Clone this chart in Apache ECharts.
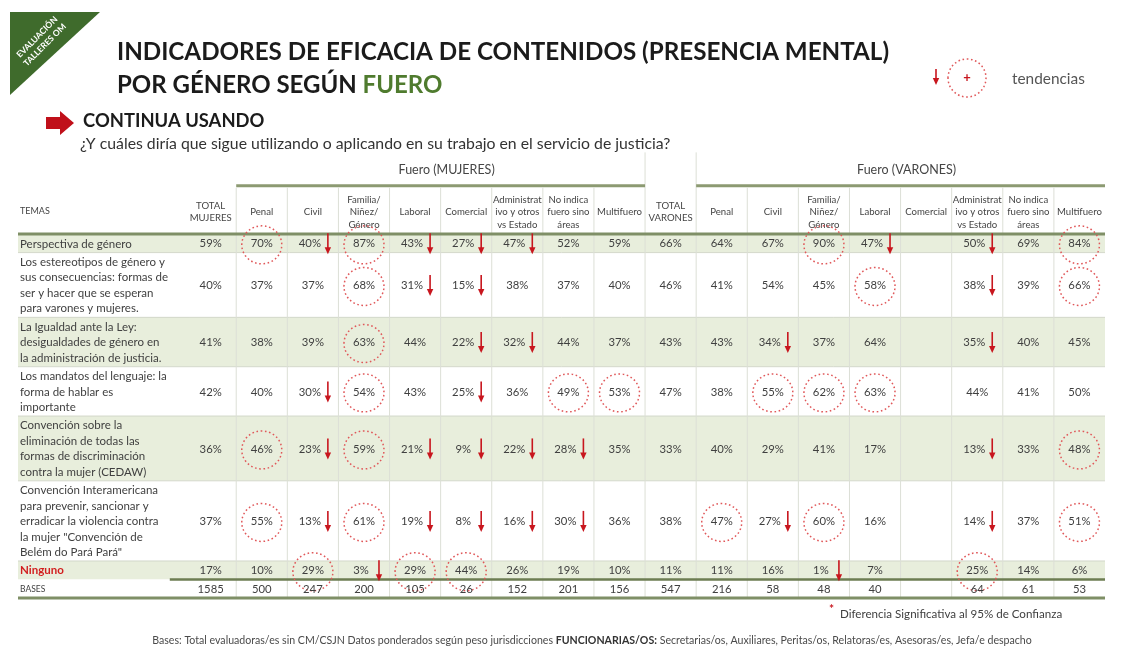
<!DOCTYPE html>
<html><head><meta charset="utf-8">
<script src="https://cdn.jsdelivr.net/npm/echarts@6/dist/echarts.min.js"></script>
<style>html,body{margin:0;padding:0;background:#fff}#c{width:1131px;height:646px}</style>
</head><body><div id="c"></div>
<script>
// ---------- DATA ----------
const columnas = ['TOTAL\nMUJERES','Penal','Civil','Familia/\nNiñez/\nGénero','Laboral','Comercial','Administrat\nivo y otros\nvs Estado','No indica\nfuero sino\náreas','Multifuero',
                  'TOTAL\nVARONES','Penal','Civil','Familia/\nNiñez/\nGénero','Laboral','Comercial','Administrat\nivo y otros\nvs Estado','No indica\nfuero sino\náreas','Multifuero'];
const grupos = ['Fuero (MUJERES)','Fuero (VARONES)'];
const temas = [
  'Perspectiva de género',
  'Los estereotipos de género y\nsus consecuencias: formas de\nser y hacer que se esperan\npara varones y mujeres.',
  'La Igualdad ante la Ley:\ndesigualdades de género en\nla administración de justicia.',
  'Los mandatos del lenguaje: la\nforma de hablar es\nimportante',
  'Convención sobre la\neliminación de todas las\nformas de discriminación\ncontra la mujer (CEDAW)',
  'Convención Interamericana\npara prevenir, sancionar y\nerradicar la violencia contra\nla mujer "Convención de\nBelém do Pará Pará"',
  'Ninguno',
  'BASES'
];
const perspectiva  = [59,70,40,87,43,27,47,52,59, 66,64,67,90,47,null,50,69,84];
const estereotipos = [40,37,37,68,31,15,38,37,40, 46,41,54,45,58,null,38,39,66];
const igualdad     = [41,38,39,63,44,22,32,44,37, 43,43,34,37,64,null,35,40,45];
const lenguaje     = [42,40,30,54,43,25,36,49,53, 47,38,55,62,63,null,44,41,50];
const cedaw        = [36,46,23,59,21,9,22,28,35,  33,40,29,41,17,null,13,33,48];
const belem        = [37,55,13,61,19,8,16,30,36,  38,47,27,60,16,null,14,37,51];
const ninguno      = [17,10,29,3,29,44,26,19,10,  11,11,16,1,7,null,25,14,6];
const bases        = [1585,500,247,200,105,26,152,201,156, 547,216,58,48,40,null,64,61,53];
// c = tendencia positiva (círculo), d = tendencia negativa (flecha), - = ninguna
const marcasPerspectiva  = '-cdcddd-----cd-d-c';
const marcasEstereotipos = '---cdd-------c-d-c';
const marcasIgualdad     = '---c-dd----d---d--';
const marcasLenguaje     = '--dc-d-cc--ccc----';
const marcasCedaw        = '-cdcdddd-------d-c';
const marcasBelem        = '-cdcdddd--cdc--d-c';
const marcasNinguno      = '--cdcc------d--c--';
const marcasBases        = '------------------';

// ---------- BUILD ----------
const filas = [perspectiva, estereotipos, igualdad, lenguaje, cedaw, belem, ninguno, bases];
const marcas = [marcasPerspectiva, marcasEstereotipos, marcasIgualdad, marcasLenguaje, marcasCedaw, marcasBelem, marcasNinguno, marcasBases];
const TEMAS_W = 3.27;
const rowSpan = temas.map(t => t.split('\n').length + 0.2);
const rowTop = [];
let acc = 0;
rowSpan.forEach((s, i) => { rowTop.push(acc); acc += s; });
const TOTAL_H = acc;
const NCOL = columnas.length;

const celdas = [];
filas.forEach((fila, r) => fila.forEach((v, c) => { if (v !== null) celdas.push([c, r, v]); }));

const FONT = 'Lato, "Open Sans", sans-serif';
const TXT = '#3f3f3f';
const VERDE = '#e8eedc';
const ROJO = '#c8161e';
const ROSA = '#e0585a';

const chart = echarts.init(document.getElementById('c'), null, {renderer: 'canvas'});

const option = {
  animation: false,
  grid: {left: 18, right: 26, top: 157, bottom: 48},
  xAxis: {type: 'value', min: -TEMAS_W, max: NCOL, show: false},
  yAxis: {type: 'value', min: -5, max: TOTAL_H, inverse: true, show: false},
  series: [
    { // row backgrounds + separators
      type: 'custom', clip: false, silent: true,
      data: temas.map((t, i) => [i]),
      renderItem(params, api) {
        const r = api.value(0);
        const a = api.coord([-TEMAS_W, rowTop[r]]);
        const b = api.coord([NCOL, rowTop[r] + rowSpan[r]]);
        const ch = [{type: 'rect', shape: {x: a[0], y: a[1], width: b[0] - a[0], height: b[1] - a[1]},
                     style: {fill: r % 2 === 0 ? VERDE : '#ffffff'}}];
        if (r > 0 && r < temas.length - 1) ch.push({type: 'line', shape: {x1: a[0], y1: a[1], x2: b[0], y2: a[1]}, style: {stroke: '#d3d8ca', lineWidth: 1}});
        return {type: 'group', children: ch};
      }
    },
    { // column headers + vertical separators
      type: 'custom', clip: false, silent: true,
      data: columnas.map((t, i) => [i]),
      renderItem(params, api) {
        const i = api.value(0);
        const a = api.coord([i, -3]);
        const b = api.coord([i + 1, 0]);
        const cx = (a[0] + b[0]) / 2, cy = (a[1] + b[1]) / 2;
        const ch = [{type: 'text', style: {text: columnas[i], x: cx, y: cy + 1, align: 'center', verticalAlign: 'middle',
                     font: '9.6px ' + FONT, fill: '#454545', lineHeight: 12.5}}];
        if (i > 0) {
          const top = (i === 9 || i === 10) ? api.coord([i, -5.3]) : api.coord([i, -3]);
          const bot = api.coord([i, TOTAL_H]);
          ch.push({type: 'line', shape: {x1: top[0], y1: top[1], x2: top[0], y2: bot[1]}, style: {stroke: '#dcdfd6', lineWidth: 1}});
        }
        return {type: 'group', children: ch};
      }
    },
    { // group headers
      type: 'custom', clip: false, silent: true,
      data: grupos.map((g, i) => [i]),
      renderItem(params, api) {
        const g = api.value(0);
        const x0 = g === 0 ? 1 : 10, x1 = g === 0 ? 9 : 18;
        const a = api.coord([x0, -5]);
        const b = api.coord([x1, -3]);
        return {type: 'group', children: [
          {type: 'text', style: {text: grupos[g], x: (a[0] + b[0]) / 2 + 6, y: (a[1] + b[1]) / 2 - 2, align: 'center', verticalAlign: 'middle',
            font: '12.5px ' + FONT, fill: '#454545'}},
          {type: 'line', shape: {x1: a[0], y1: b[1] - 2, x2: b[0], y2: b[1] - 2}, style: {stroke: '#8c9a72', lineWidth: 3}}
        ]};
      }
    },
    { // TEMAS header + row labels
      type: 'custom', clip: false, silent: true,
      data: temas.map((t, i) => [i]),
      renderItem(params, api) {
        const r = api.value(0);
        const a = api.coord([-TEMAS_W, rowTop[r]]);
        const b = api.coord([-TEMAS_W, rowTop[r] + rowSpan[r]]);
        const isNinguno = r === temas.length - 2, isBase = r === temas.length - 1;
        const ch = [{type: 'text', style: {text: temas[r], x: a[0] + 2, y: (a[1] + b[1]) / 2 + 0.5, align: 'left', verticalAlign: 'middle',
          font: (isNinguno ? 'bold 11.5px ' : isBase ? '8.5px ' : '11.5px ') + FONT, fill: isNinguno ? '#d21f1f' : TXT, lineHeight: 15.5}}];
        if (r === 0) {
          const h = api.coord([-TEMAS_W, -1.5]);
          ch.push({type: 'text', style: {text: 'TEMAS', x: h[0] + 2, y: h[1], align: 'left', verticalAlign: 'middle', font: '9px ' + FONT, fill: '#454545'}});
        }
        return {type: 'group', children: ch};
      }
    },
    { // rules
      type: 'custom', clip: false, silent: true,
      data: [[0], [1], [2]],
      renderItem(params, api) {
        const k = api.value(0);
        let a, b, w;
        if (k === 0) { a = api.coord([-TEMAS_W, 0]); b = api.coord([NCOL, 0]); w = 3; }
        else if (k === 1) { const y = rowTop[temas.length - 1]; a = api.coord([-0.3, y]); b = api.coord([NCOL, y]); w = 2.5; }
        else { a = api.coord([-TEMAS_W, TOTAL_H]); b = api.coord([NCOL, TOTAL_H]); w = 3; }
        return {type: 'line', shape: {x1: a[0], y1: a[1], x2: b[0], y2: b[1]}, style: {stroke: k === 1 ? '#6d7d52' : '#7f8f66', lineWidth: w}};
      }
    },
    { // values with trend marks
      type: 'custom', clip: false, silent: true, z: 5,
      data: celdas,
      renderItem(params, api) {
        const c = api.value(0), r = api.value(1), v = api.value(2);
        const m = marcas[r][c];
        const a = api.coord([c, rowTop[r]]);
        const b = api.coord([c + 1, rowTop[r] + rowSpan[r]]);
        const cx = (a[0] + b[0]) / 2, cy = (a[1] + b[1]) / 2;
        const isBase = r === filas.length - 1;
        const ch = [{type: 'text', style: {text: isBase ? String(v) : v + '%', x: m === 'd' ? cx - 3 : cx, y: cy + 0.5,
          align: 'center', verticalAlign: 'middle', font: '11.3px ' + FONT, fill: TXT}}];
        if (m === 'c') {
          ch.push({type: 'ellipse', shape: {cx: cx, cy: cy + 1.5, rx: 20, ry: 19},
            style: {fill: null, stroke: ROSA, lineWidth: 1.5, lineDash: [1.6, 2.6]}});
        } else if (m === 'd') {
          const ax = cx + 15;
          ch.push({type: 'line', shape: {x1: ax, y1: cy - 10, x2: ax, y2: cy + 6}, style: {stroke: ROJO, lineWidth: 1.6}});
          ch.push({type: 'polygon', shape: {points: [[ax - 3.2, cy + 4], [ax + 3.2, cy + 4], [ax, cy + 11]]}, style: {fill: ROJO}});
        }
        return {type: 'group', children: ch};
      }
    }
  ],
  graphic: [
    {type: 'polygon', shape: {points: [[10, 12], [100, 12], [10, 95]]}, style: {fill: '#3f6b2c'}},
    {type: 'text', x: 41, y: 41, rotation: Math.PI / 4,
      style: {text: 'EVALUACIÓN\nTALLERES OM', x: 0, y: 0, align: 'center', verticalAlign: 'middle', font: 'bold 8.5px ' + FONT, fill: '#ffffff', lineHeight: 11}},
    {type: 'text', x: 117, y: 52,
      style: {text: 'INDICADORES DE EFICACIA DE CONTENIDOS (PRESENCIA MENTAL)', verticalAlign: 'middle', font: 'bold 24.2px ' + FONT, fill: '#1b1b1b'}},
    {type: 'text', x: 117, y: 85,
      style: {text: 'POR GÉNERO SEGÚN {g|FUERO}', verticalAlign: 'middle', font: 'bold 24px ' + FONT, fill: '#1b1b1b',
        rich: {g: {font: 'bold 24px ' + FONT, fill: '#4f7b2e'}}}},
    {type: 'polygon', shape: {points: [[46, 117], [60, 117], [60, 111], [74, 123], [60, 135], [60, 129], [46, 129]]}, style: {fill: '#c0101a'}},
    {type: 'text', x: 83, y: 121, style: {text: 'CONTINUA USANDO', verticalAlign: 'middle', font: 'bold 18.4px ' + FONT, fill: '#1b1b1b'}},
    {type: 'text', x: 80, y: 144, style: {text: '¿Y cuáles diría que sigue utilizando o aplicando en su trabajo en el servicio de justicia?', verticalAlign: 'middle', font: '15.8px ' + FONT, fill: '#333333'}},
    // legend
    {type: 'line', shape: {x1: 936, y1: 69, x2: 936, y2: 80}, style: {stroke: ROJO, lineWidth: 1.6}},
    {type: 'polygon', shape: {points: [[932.8, 78], [939.2, 78], [936, 85]]}, style: {fill: ROJO}},
    {type: 'ellipse', shape: {cx: 967, cy: 78, rx: 19, ry: 19}, style: {fill: null, stroke: ROSA, lineWidth: 1.5, lineDash: [1.6, 2.6]}},
    {type: 'text', x: 967, y: 78, style: {text: '+', align: 'center', verticalAlign: 'middle', font: 'bold 13px ' + FONT, fill: ROJO}},
    {type: 'text', x: 1012, y: 79, style: {text: 'tendencias', verticalAlign: 'middle', font: '15.4px ' + FONT, fill: '#555555'}},
    // notes
    {type: 'text', x: 829, y: 609, style: {text: '*', verticalAlign: 'middle', font: 'bold 12px ' + FONT, fill: ROJO}},
    {type: 'text', x: 840, y: 614, style: {text: 'Diferencia Significativa al 95% de Confianza', verticalAlign: 'middle', font: '11.6px ' + FONT, fill: '#404040'}},
    {type: 'text', x: 592, y: 641,
      style: {text: 'Bases: Total evaluadoras/es sin CM/CSJN Datos ponderados según peso jurisdicciones {b|FUNCIONARIAS/OS:} Secretarias/os, Auxiliares, Peritas/os, Relatoras/es, Asesoras/es, Jefa/e despacho',
        align: 'center', verticalAlign: 'middle', font: '10.6px ' + FONT, fill: '#4a4a4a',
        rich: {b: {font: 'bold 10.6px ' + FONT, fill: '#333333'}}}}
  ]
};
chart.setOption(option);
</script>
</body></html>
